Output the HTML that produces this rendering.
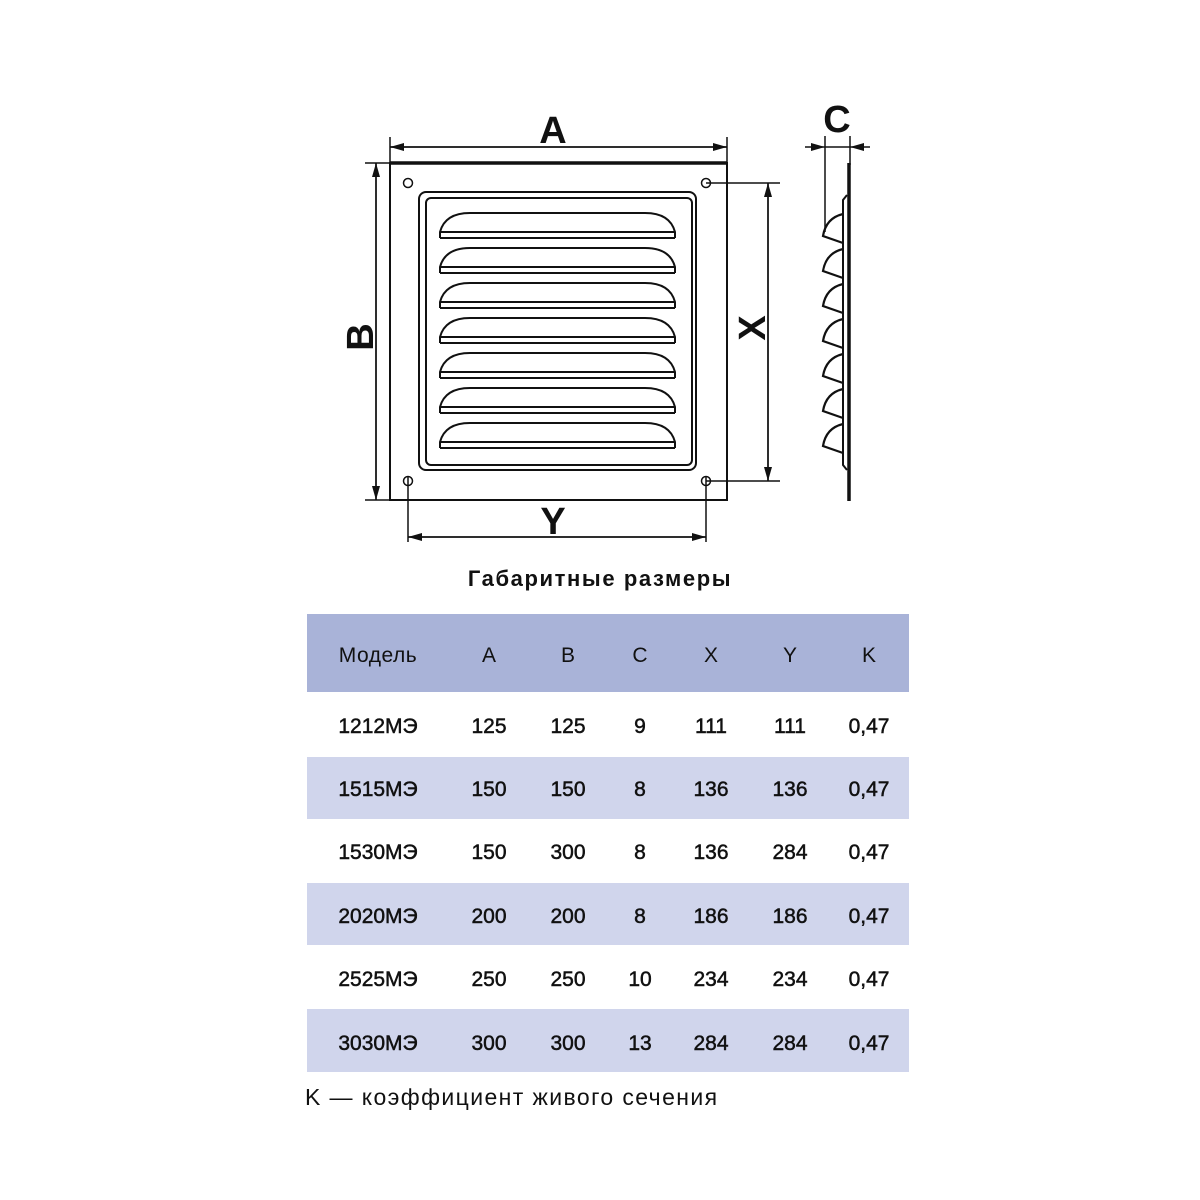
<!DOCTYPE html>
<html><head><meta charset="utf-8"><style>
body{margin:0;background:#fff;width:1200px;height:1200px;overflow:hidden;font-family:"Liberation Sans","DejaVu Sans",sans-serif}
svg{position:absolute;left:0;top:0}
</style></head><body>
<svg width="1200" height="1200" viewBox="0 0 1200 1200">
<defs>
<marker id="ar" viewBox="0 0 14 8" refX="14" refY="4" markerWidth="14" markerHeight="8" markerUnits="userSpaceOnUse" orient="auto"><path d="M0,0 L14,4 L0,8 Z" fill="#111"/></marker>
<g id="lv" fill="none" stroke="#111" stroke-width="2">
<path d="M440,238 L440,232 Q445,213 470,213 L645,213 Q670,213 675,232 L675,238"/>
<path d="M440,232 L675,232 M440,238 L675,238"/>
</g>
<g id="sl" fill="none" stroke="#111" stroke-width="2.2">
<path d="M843,214 Q826,218 823,236 L843,243"/>
</g>
</defs>
<g stroke="#111" fill="none" stroke-width="1.5">
<rect x="390" y="163" width="337" height="337" stroke-width="2"/>
<line x1="390" y1="163" x2="727" y2="163" stroke-width="3.5"/>
<rect x="419" y="192" width="277" height="278" rx="7" stroke-width="2"/>
<rect x="426" y="198" width="266" height="267" rx="5" stroke-width="2"/>
<circle cx="408" cy="183" r="4.5"/><circle cx="706" cy="183" r="4.5"/>
<circle cx="408" cy="481" r="4.5"/><circle cx="706" cy="481" r="4.5"/>
<line x1="390" y1="137" x2="390" y2="163"/><line x1="727" y1="137" x2="727" y2="163"/>
<line x1="390" y1="147" x2="727" y2="147" marker-end="url(#ar)"/>
<line x1="727" y1="147" x2="390" y2="147" marker-end="url(#ar)"/>
<line x1="365" y1="163" x2="390" y2="163"/><line x1="365" y1="500" x2="390" y2="500"/>
<line x1="376" y1="163" x2="376" y2="500" marker-end="url(#ar)"/>
<line x1="376" y1="500" x2="376" y2="163" marker-end="url(#ar)"/>
<line x1="706" y1="183" x2="780" y2="183"/><line x1="706" y1="481" x2="780" y2="481"/>
<line x1="768" y1="183" x2="768" y2="481" marker-end="url(#ar)"/>
<line x1="768" y1="481" x2="768" y2="183" marker-end="url(#ar)"/>
<line x1="408" y1="476" x2="408" y2="542"/><line x1="706" y1="476" x2="706" y2="542"/>
<line x1="408" y1="537" x2="706" y2="537" marker-end="url(#ar)"/>
<line x1="706" y1="537" x2="408" y2="537" marker-end="url(#ar)"/>
<line x1="825" y1="136" x2="825" y2="232"/><line x1="850" y1="136" x2="850" y2="165"/>
<line x1="805" y1="147" x2="825" y2="147" marker-end="url(#ar)"/>
<line x1="870" y1="147" x2="850" y2="147" marker-end="url(#ar)"/>
<line x1="825" y1="147" x2="850" y2="147"/>
<line x1="849" y1="163" x2="849" y2="501" stroke-width="3.5"/>
<path d="M847,195 L843,200 L843,465 L847,470" stroke-width="2"/>
</g>
<use href="#lv"/><use href="#lv" y="35"/><use href="#lv" y="70"/><use href="#lv" y="105"/><use href="#lv" y="140"/><use href="#lv" y="175"/><use href="#lv" y="210"/>
<use href="#sl"/><use href="#sl" y="35"/><use href="#sl" y="70"/><use href="#sl" y="105"/><use href="#sl" y="140"/><use href="#sl" y="175"/><use href="#sl" y="210"/>
<g font-weight="bold" font-size="38" fill="#111" text-anchor="middle">
<text x="553" y="143">A</text>
<text x="837" y="132">C</text>
<text x="553" y="534">Y</text>
<text transform="translate(373,337) rotate(-90)">B</text>
<text transform="translate(765,328) rotate(-90)">X</text>
</g>
<text x="600" y="586" font-size="22" font-weight="bold" letter-spacing="1.6" text-anchor="middle" fill="#111">Габаритные размеры</text>
<rect x="307" y="614" width="602" height="78" fill="#a9b3d8"/>
<rect x="307" y="757" width="602" height="62" fill="#d0d5ec"/>
<rect x="307" y="883" width="602" height="62" fill="#d0d5ec"/>
<rect x="307" y="1009" width="602" height="63" fill="#d0d5ec"/>
<g font-size="21" fill="#111" text-anchor="middle">
<g><text x="378" y="662" letter-spacing="0.5">Модель</text><text x="489" y="662">A</text><text x="568" y="662">B</text><text x="640" y="662">C</text><text x="711" y="662">X</text><text x="790" y="662">Y</text><text x="869" y="662">K</text></g>
<g stroke="#111" stroke-width="0.5">
<g transform="translate(0,733)"><text x="378">1212МЭ</text><text x="489">125</text><text x="568">125</text><text x="640">9</text><text x="711">111</text><text x="790">111</text><text x="869">0,47</text></g>
<g transform="translate(0,796)"><text x="378">1515МЭ</text><text x="489">150</text><text x="568">150</text><text x="640">8</text><text x="711">136</text><text x="790">136</text><text x="869">0,47</text></g>
<g transform="translate(0,859)"><text x="378">1530МЭ</text><text x="489">150</text><text x="568">300</text><text x="640">8</text><text x="711">136</text><text x="790">284</text><text x="869">0,47</text></g>
<g transform="translate(0,923)"><text x="378">2020МЭ</text><text x="489">200</text><text x="568">200</text><text x="640">8</text><text x="711">186</text><text x="790">186</text><text x="869">0,47</text></g>
<g transform="translate(0,986)"><text x="378">2525МЭ</text><text x="489">250</text><text x="568">250</text><text x="640">10</text><text x="711">234</text><text x="790">234</text><text x="869">0,47</text></g>
<g transform="translate(0,1050)"><text x="378">3030МЭ</text><text x="489">300</text><text x="568">300</text><text x="640">13</text><text x="711">284</text><text x="790">284</text><text x="869">0,47</text></g>
</g>
</g>
<text x="305" y="1105" font-size="23" letter-spacing="1.4" fill="#111">K — коэффициент живого сечения</text>
</svg>
</body></html>
